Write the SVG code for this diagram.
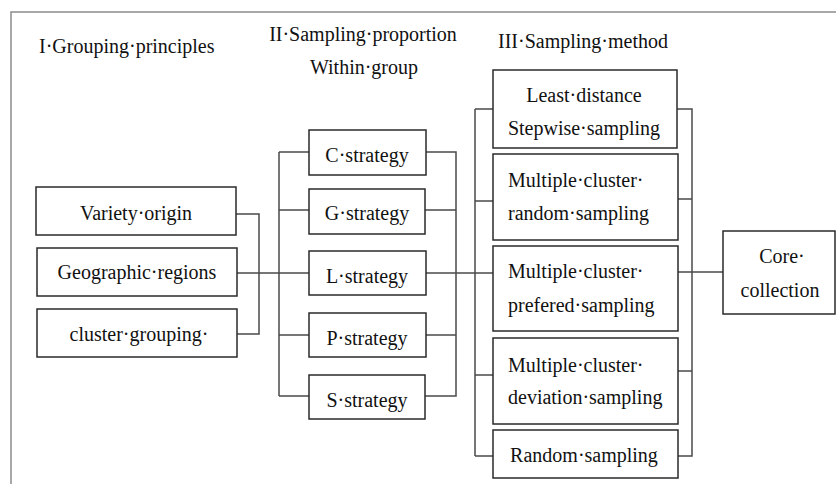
<svg xmlns="http://www.w3.org/2000/svg" width="836" height="484" viewBox="0 0 836 484">
  <style>
    .frame { fill: none; stroke: #8c8c8c; stroke-width: 1.5; }
    .box { fill: #ffffff; stroke: #2a2a2a; stroke-width: 1.5; }
    .wire { fill: none; stroke: #4a4a4a; stroke-width: 1.5; }
    text { font-family: "Liberation Serif", "Times New Roman", serif; font-size: 20px; fill: #111111; }
    .c { text-anchor: middle; }
  </style>
  <rect width="836" height="484" fill="#ffffff"/>
  <!-- page frame (top and left edges) -->
  <path class="frame" d="M11,484 V12 H836"/>

  <!-- column headings -->
  <g id="headings">
    <text x="39" y="53">I·Grouping·principles</text>
    <text class="c" x="363" y="41">II·Sampling·proportion</text>
    <text class="c" x="364" y="74">Within·group</text>
    <text class="c" x="583" y="48">III·Sampling·method</text>
  </g>

  <!-- connectors -->
  <g id="connectors">
    <path class="wire" d="M236,214 H259 V334 H237 M237,273 H279"/>
    <path class="wire" d="M279,152 V396 M279,152 H309 M279,210 H309 M279,273 H309 M279,335 H309 M279,396 H309"/>
    <path class="wire" d="M426,152 H456 V396 H425 M425,210 H456 M426,335 H456 M426,273 H475"/>
    <path class="wire" d="M475,109 V456 M475,109 H493 M475,201 H493 M475,273 H493 M475,375 H493 M475,456 H493"/>
    <path class="wire" d="M677,109 H692 V456 H678 M678,199 H692 M678,371 H692 M678,272 H723"/>
  </g>

  <!-- grouping principles -->
  <g id="variety-origin">
    <rect class="box" x="36" y="187" width="200" height="48"/>
    <text class="c" x="136" y="220">Variety·origin</text>
  </g>
  <g id="geographic-regions">
    <rect class="box" x="37" y="248" width="200" height="48"/>
    <text class="c" x="137" y="279">Geographic·regions</text>
  </g>
  <g id="cluster-grouping">
    <rect class="box" x="37" y="309" width="200" height="48"/>
    <text class="c" x="139" y="341">cluster·grouping·</text>
  </g>

  <!-- sampling proportion strategies -->
  <g id="c-strategy">
    <rect class="box" x="309" y="130" width="117" height="45"/>
    <text class="c" x="367" y="162">C·strategy</text>
  </g>
  <g id="g-strategy">
    <rect class="box" x="309" y="189" width="116" height="45"/>
    <text class="c" x="367" y="220">G·strategy</text>
  </g>
  <g id="l-strategy">
    <rect class="box" x="309" y="251" width="117" height="44"/>
    <text class="c" x="367" y="283">L·strategy</text>
  </g>
  <g id="p-strategy">
    <rect class="box" x="309" y="313" width="117" height="44"/>
    <text class="c" x="367" y="345">P·strategy</text>
  </g>
  <g id="s-strategy">
    <rect class="box" x="309" y="375" width="116" height="44"/>
    <text class="c" x="367" y="407">S·strategy</text>
  </g>

  <!-- sampling methods -->
  <g id="least-distance">
    <rect class="box" x="493" y="70" width="184" height="78"/>
    <text class="c" x="584" y="102">Least·distance</text>
    <text class="c" x="584" y="135">Stepwise·sampling</text>
  </g>
  <g id="random-cluster">
    <rect class="box" x="493" y="154" width="185" height="86"/>
    <text x="508" y="187">Multiple·cluster·</text>
    <text x="508" y="220">random·sampling</text>
  </g>
  <g id="preferred-cluster">
    <rect class="box" x="493" y="246" width="185" height="85"/>
    <text x="508" y="278">Multiple·cluster·</text>
    <text x="508" y="312">prefered·sampling</text>
  </g>
  <g id="deviation-cluster">
    <rect class="box" x="493" y="338" width="185" height="86"/>
    <text x="508" y="372">Multiple·cluster·</text>
    <text x="508" y="404">deviation·sampling</text>
  </g>
  <g id="random-sampling">
    <rect class="box" x="493" y="430" width="185" height="48"/>
    <text class="c" x="584" y="462">Random·sampling</text>
  </g>

  <!-- result -->
  <g id="core-collection">
    <rect class="box" x="723" y="231" width="112" height="83"/>
    <text class="c" x="782" y="263">Core·</text>
    <text class="c" x="780" y="297">collection</text>
  </g>
</svg>
